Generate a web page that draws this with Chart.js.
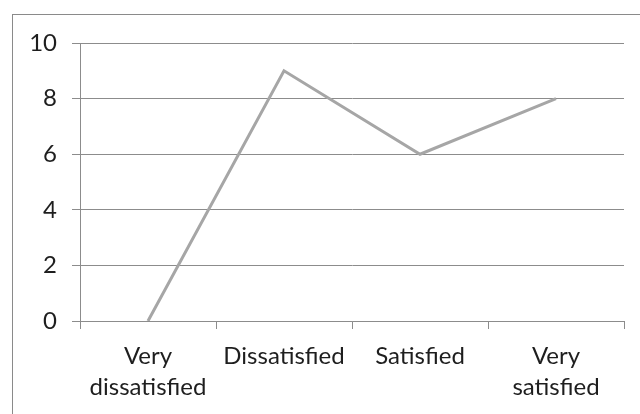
<!DOCTYPE html>
<html>
<head>
<meta charset="utf-8">
<script src="https://cdn.jsdelivr.net/npm/chart.js@4/dist/chart.umd.min.js"></script>
<style>
  html, body { margin: 0; padding: 0; background: #fff; }
  #wrap { width: 640px; height: 414px; }
</style>
</head>
<body>
<div id="wrap"><canvas id="c" width="640" height="414"></canvas></div>
<script>
// Satisfaction survey responses
const categories = [["Very", "dissatisfied"], ["Dissatisfied"], ["Satisfied"], ["Very", "satisfied"]];
const responses = [0, 9, 6, 8];
const yTicks = [0, 2, 4, 6, 8, 10];

const FONT = "Lato, 'Open Sans', sans-serif";
const AXIS_GREY = '#8c8c8c';

// Frame around the whole chart object
const chartFrame = {
  id: 'chartFrame',
  beforeDraw(chart) {
    const ctx = chart.ctx;
    ctx.save();
    ctx.fillStyle = '#fff';
    ctx.fillRect(0, 0, chart.width, chart.height);
    ctx.strokeStyle = '#8a8a8a';
    ctx.lineWidth = 1;
    ctx.strokeRect(12.5, 14.5, chart.width + 20, chart.height + 20);
    ctx.restore();
  }
};

new Chart(document.getElementById('c'), {
  type: 'line',
  data: {
    labels: categories,
    datasets: [{
      data: responses,
      borderColor: '#a6a6a6',
      borderWidth: 3,
      pointRadius: 0,
      tension: 0,
      fill: false
    }]
  },
  options: {
    responsive: false,
    animation: false,
    layout: { padding: { left: 0, top: 43, right: 16, bottom: 0 } },
    plugins: { legend: { display: false }, tooltip: { enabled: false } },
    scales: {
      x: {
        type: 'category',
        offset: true,
        afterFit(scale) { scale.height = 93; },
        grid: {
          offset: true,
          drawOnChartArea: false,
          drawTicks: true,
          tickLength: 8,
          color: AXIS_GREY,
          lineWidth: 1
        },
        border: { display: true, color: AXIS_GREY, width: 1 },
        ticks: {
          color: '#1e1e1e',
          padding: 12,
          maxRotation: 0,
          autoSkip: false,
          font: { family: FONT, size: 24, lineHeight: '31px' }
        }
      },
      y: {
        min: 0,
        max: 10,
        afterFit(scale) { scale.width = 80; },
        afterBuildTicks(scale) { scale.ticks = yTicks.map(v => ({ value: v })); },
        grid: {
          drawOnChartArea: true,
          drawTicks: true,
          tickLength: 8,
          color: AXIS_GREY,
          lineWidth: 1
        },
        border: { display: true, color: AXIS_GREY, width: 1 },
        ticks: {
          color: '#1e1e1e',
          padding: 15,
          font: { family: FONT, size: 24 }
        }
      }
    }
  },
  plugins: [chartFrame]
});
</script>
</body>
</html>
